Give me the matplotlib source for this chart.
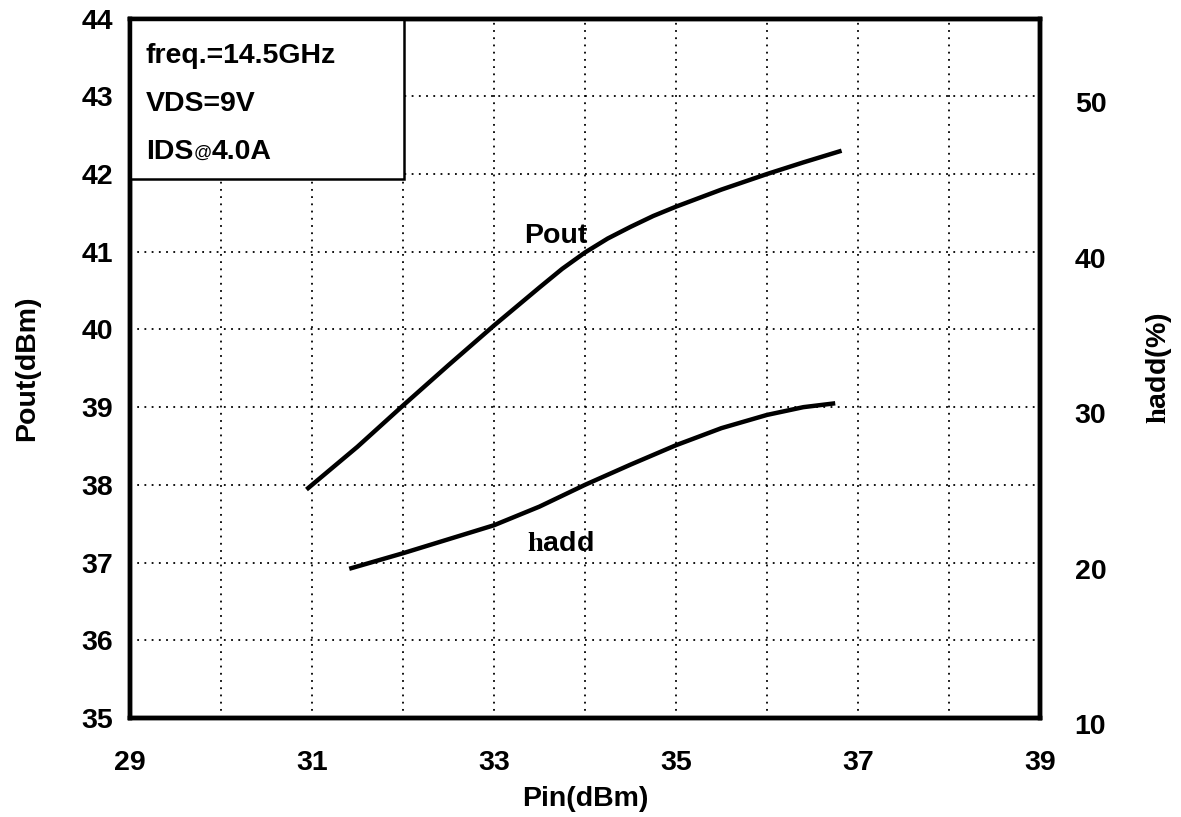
#!/usr/bin/env python3
import matplotlib
matplotlib.use('Agg')
import matplotlib.pyplot as plt
from matplotlib.patches import Rectangle
from matplotlib.transforms import ScaledTranslation

# --------------------
# DATA
# --------------------
pin_pout = [30.94, 31.5, 32.0, 32.5, 33.0, 33.5, 33.75, 34.0, 34.25, 34.5, 34.75,
            35.0, 35.5, 36.0, 36.4, 36.82]
pout = [37.94, 38.49, 39.02, 39.54, 40.05, 40.54, 40.78, 40.99, 41.17, 41.32, 41.46,
        41.58, 41.80, 42.0, 42.15, 42.30]

pin_eff = [31.41, 32.0, 32.5, 33.0, 33.5, 34.0, 34.5, 35.0, 35.5, 36.0, 36.4, 36.75]
eff = [19.6, 20.6, 21.5, 22.4, 23.6, 25.0, 26.3, 27.55, 28.65, 29.5, 30.0, 30.25]

x_ticks = [29, 31, 33, 35, 37, 39]
y_ticks = [35, 36, 37, 38, 39, 40, 41, 42, 43, 44]
y2_ticks = [10, 20, 30, 40, 50]
info_lines = ['freq.=14.5GHz', 'VDS=9V']

# --------------------
# STYLE
# --------------------
plt.rcParams['font.family'] = ['Liberation Sans', 'DejaVu Sans']
plt.rcParams['font.weight'] = 'bold'
plt.rcParams['mathtext.fontset'] = 'custom'
plt.rcParams['mathtext.rm'] = 'Liberation Serif'
plt.rcParams['mathtext.bf'] = 'Liberation Sans:bold'
FS = 20.5

fig = plt.figure(figsize=(11.81, 8.17), dpi=100)
ax = fig.add_axes([0.110, 0.1212, 0.7706, 0.856])
ax2 = ax.twinx()

# curves
ax.plot(pin_pout, pout, color='black', lw=3.2, solid_capstyle='butt', zorder=4)
ax2.plot(pin_eff, eff, color='black', lw=3.2, solid_capstyle='butt', zorder=4)

# axes limits / ticks
ax.set_xlim(29, 39)
ax.set_ylim(35, 44)
ax2.set_ylim(10, 55)
ax.set_xticks(x_ticks)
ax.set_xticks(range(29, 40), minor=True)
ax.set_yticks(y_ticks)
ax2.set_yticks(y2_ticks)

ax.grid(True, which='both', axis='x', color='black', lw=1.3, linestyle=(0, (1, 3)))
ax.grid(True, axis='y', color='black', lw=1.3, linestyle=(0, (1, 3)))

ax.tick_params(axis='both', which='both', length=0, labelsize=FS)
ax.tick_params(axis='x', pad=23)
ax.tick_params(axis='y', pad=12)
ax2.tick_params(axis='y', length=0, labelsize=FS, pad=25)

for spine in ax.spines.values():
    spine.set_linewidth(3.2)
for spine in ax2.spines.values():
    spine.set_linewidth(3.2)

ax.set_xlabel('Pin(dBm)', fontsize=FS, fontweight='bold', labelpad=7)
ax.set_ylabel('Pout(dBm)', fontsize=FS, fontweight='bold', labelpad=30)
ax2.set_ylabel(r'$\mathrm{h}\mathbf{add(\%)}$', fontsize=FS, labelpad=27, rotation=90)

# info box in the upper left, white so the grid does not show through
ax.add_patch(Rectangle((0, 0.770), 0.301, 0.23, transform=ax.transAxes,
                       facecolor='white', edgecolor='black', lw=1.8, zorder=3))
for i, line in enumerate(info_lines):
    ax.text(0.0176, 0.947 - i * 0.069, line, transform=ax.transAxes,
            fontsize=FS, fontweight='bold', va='center', ha='left', zorder=5)
t_ids = ax.text(0.0176, 0.809, 'IDS', transform=ax.transAxes,
                fontsize=FS, fontweight='bold', va='center', ha='left', zorder=5)
t_at = ax.annotate('@', xy=(1, 0.14), xycoords=t_ids, fontsize=13,
                   fontweight='normal', va='bottom', ha='left', zorder=5)
ax.annotate('4.0A', xy=(1, 0), xycoords=t_at, xytext=(0, -2.5),
            textcoords='offset points', fontsize=FS, fontweight='bold',
            va='bottom', ha='left', zorder=5)

# curve labels
ax.text(33.33, 41.2, 'Pout', fontsize=FS, fontweight='bold', va='center', ha='left')
ax.text(33.36, 37.24, r'$\mathrm{h}\mathbf{add}$', fontsize=FS, va='center', ha='left')

# right tick labels sit a little lower than their grid value in the reference
offset = ScaledTranslation(0, -0.06, fig.dpi_scale_trans)
for tick in ax2.yaxis.get_major_ticks():
    tick.label2.set_transform(tick.label2.get_transform() + offset)

fig.savefig('out.png', dpi=100)
